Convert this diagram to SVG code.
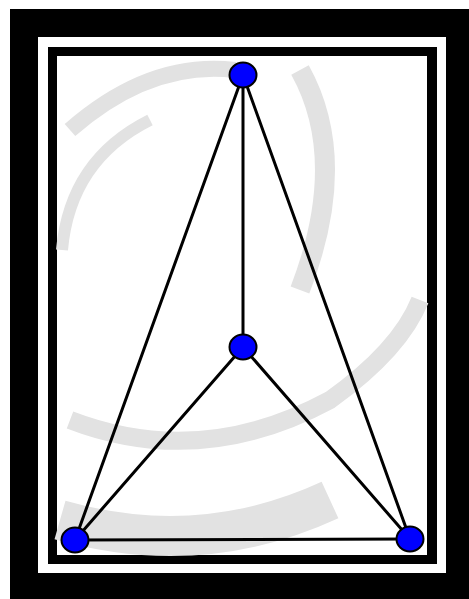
<svg xmlns="http://www.w3.org/2000/svg" width="469" height="599" viewBox="0 0 469 599">
<style>
.edge{stroke:#000;stroke-width:3;fill:none;stroke-linecap:round}
.node{fill:#0000ff;stroke:#000;stroke-width:2}
.wm{fill:none;stroke:#e2e2e2}
</style>
<rect x="0" y="0" width="469" height="599" fill="#fff"/>
<g id="frame">
<rect x="10" y="9" width="459" height="590" fill="#000"/>
<rect x="38" y="37" width="408" height="536" fill="#fff"/>
<rect x="48" y="47" width="389" height="517" fill="#000"/>
<rect x="57" y="56" width="370" height="499" fill="#fff"/>
</g>
<g id="watermark">
<path class="wm" stroke-width="16" d="M70 130 Q150 60 235 70"/>
<path class="wm" stroke-width="12" d="M62 250 Q70 160 150 120"/>
<path class="wm" stroke-width="20" d="M300 70 Q350 160 300 290"/>
<path class="wm" stroke-width="18" d="M70 420 Q200 470 330 400 Q400 350 420 300"/>
<path class="wm" stroke-width="40" d="M60 520 Q200 560 330 500"/>
</g>
<g id="connectors">
<line class="edge" x1="243" y1="75" x2="243" y2="347"/>
<line class="edge" x1="243" y1="75" x2="75" y2="540"/>
<line class="edge" x1="243" y1="75" x2="410" y2="539"/>
<line class="edge" x1="243" y1="347" x2="75" y2="540"/>
<line class="edge" x1="243" y1="347" x2="410" y2="539"/>
<line class="edge" x1="75" y1="540" x2="410" y2="539"/>
</g>
<g id="n1"><ellipse class="node" cx="243" cy="75" rx="13.5" ry="12.5"/></g>
<g id="n2"><ellipse class="node" cx="243" cy="347" rx="13.5" ry="12.5"/></g>
<g id="n3"><ellipse class="node" cx="75" cy="540" rx="13.5" ry="12.5"/></g>
<g id="n4"><ellipse class="node" cx="410" cy="539" rx="13.5" ry="12.5"/></g>
</svg>
